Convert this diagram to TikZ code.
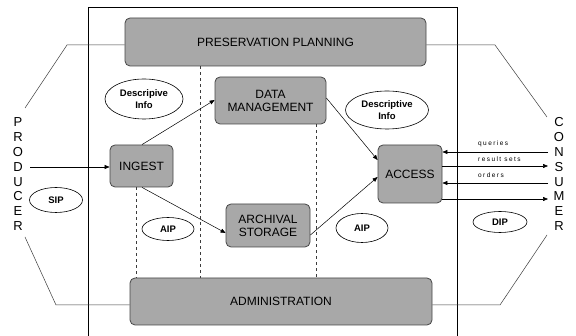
\documentclass[tikz,border=0pt]{standalone}
\usepackage{fontspec}
\setmainfont{Liberation Sans}
\usetikzlibrary{shapes.geometric,arrows.meta}
\definecolor{boxfill}{RGB}{168,168,168}
\definecolor{boxline}{RGB}{70,70,70}
\definecolor{thinline}{RGB}{60,60,60}
\begin{document}
\begin{tikzpicture}[x=1pt,y=-1pt,
  fn/.style={rectangle,rounded corners=5pt,draw=boxline,line width=0.8pt,fill=boxfill,
    align=center,inner sep=0pt,font=\fontsize{12}{13}\selectfont},
  oval/.style={ellipse,draw=black,line width=0.6pt,inner sep=0pt,align=center,
    font=\fontsize{9.5}{11.5}\selectfont\bfseries},
  flow/.style={line width=0.5pt,-{Triangle[length=5pt,width=4pt]}},
  side/.style={draw=thinline,line width=0.5pt},
  small/.style={font=\fontsize{6.5}{7}\selectfont\addfontfeature{LetterSpace=22},inner sep=0pt,anchor=west},
  letter/.style={font=\fontsize{13}{14}\selectfont,inner sep=0pt}]
\useasboundingbox (0,0) rectangle (576,336);
\fill[white] (0,0) rectangle (576,336);
% outer frame
\draw[line width=0.7pt] (88,336) -- (88,7) -- (457,7) -- (457,336);
% boxes
\node[fn,minimum width=301pt,minimum height=48pt] (pp) at (275.5,42) {PRESERVATION PLANNING};
\node[fn,minimum width=302pt,minimum height=47pt] (admin) at (281,301.5) {ADMINISTRATION};
\node[fn,minimum width=63pt,minimum height=42pt] (ingest) at (141.5,166) {INGEST};
\node[fn,minimum width=111pt,minimum height=47pt] (dm) at (270.5,100.5) {DATA\\MANAGEMENT};
\node[fn,minimum width=84pt,minimum height=43pt] (as) at (268,225.5) {ARCHIVAL\\STORAGE};
\node[fn,minimum width=64pt,minimum height=58pt] (access) at (410,174) {ACCESS};
% dashed lines
\draw[dashed,line width=0.5pt,draw=thinline] (ingest.south -| 136,0) -- (admin.north -| 136,0);
\draw[dashed,line width=0.5pt,draw=thinline] (pp.south -| 200,0) -- (admin.north -| 200,0);
\draw[dashed,line width=0.5pt,draw=thinline] (dm.south -| 316,0) -- (admin.north -| 316,0);
% ovals
\node[oval,minimum width=78pt,minimum height=40pt] (d1) at (144,99) {Descripive\\Info};
\node[oval,minimum width=83pt,minimum height=38pt] (d2) at (387,110) {Descriptive\\Info};
\node[oval,minimum width=53pt,minimum height=25pt] (sip) at (56,200) {SIP};
\node[oval,minimum width=52pt,minimum height=23pt] (aip1) at (168,229) {AIP};
\node[oval,minimum width=52pt,minimum height=29pt] (aip2) at (362,228) {AIP};
\node[oval,minimum width=54pt,minimum height=21pt] (dip) at (500,222) {DIP};
% producer / consumer letters
\foreach \l [count=\i from 0] in {P,R,O,D,U,C,E,R} {
  \node[letter] (p\i) at (18,122+14.9*\i) {\l};
}
\foreach \l [count=\i from 0] in {C,O,N,S,U,M,E,R} {
  \node[letter] (c\i) at (559,122+14.9*\i) {\l};
}
% producer side
\coordinate (pt1) at (67,45);
\coordinate (pt2) at (25,108);
\coordinate (pb1) at (25,237);
\coordinate (pb2) at (56,305);
\draw[side] (pp.west |- pt1) -- (pt1) -- (pt2);
\draw[side] (pb1) -- (pb2) -- (admin.west |- pb2);
\coordinate (pin) at (30,167);
\draw[flow] (pin) -- (ingest.west |- pin);
% consumer side
\coordinate (ct1) at (495,45);
\coordinate (ct2) at (547,117);
\coordinate (cb1) at (500,305);
\coordinate (cb2) at (547,235);
\draw[side] (pp.east |- ct1) -- (ct1) -- (ct2);
\draw[side] (admin.east |- cb1) -- (cb1) -- (cb2);
\coordinate (cq) at (548,152);
\coordinate (cr) at (548,166);
\coordinate (co) at (548,183);
\coordinate (cd) at (548,199);
\draw[flow] (cq) -- (access.east |- cq);
\draw[flow] (access.east |- cr) -- (cr);
\draw[flow] (co) -- (access.east |- co);
\draw[flow] (access.east |- cd) -- (cd);
\node[small] (lq) at (478,144) {queries};
\node[small] (lr) at (478,159.5) {result sets};
\node[small] (lo) at (478,175.5) {orders};
% internal flows
\draw[flow] (ingest.north -| 142,0) -- (dm.west |- 0,100);
\draw[flow] (ingest.south -| 142,0) -- (as.west |- 0,233);
\draw[flow] (dm.east |- 0,98) -- (access.west |- 0,160);
\draw[flow] (as.east |- 0,235) -- (access.west |- 0,177);
\end{tikzpicture}
\end{document}
